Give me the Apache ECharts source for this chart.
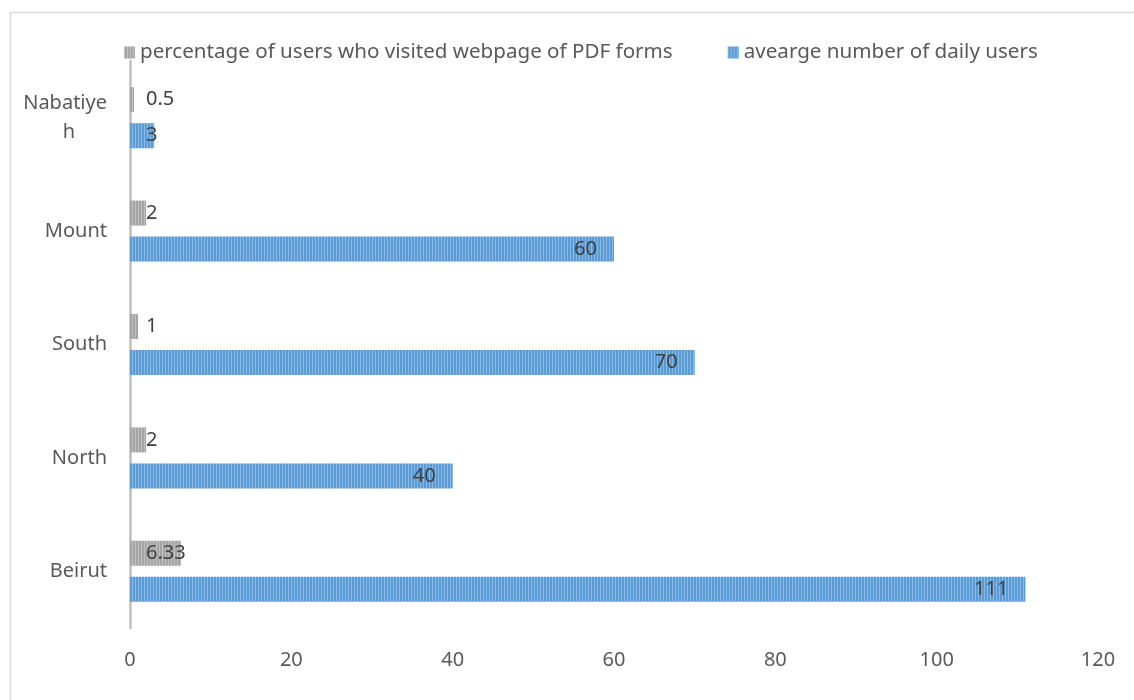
<!DOCTYPE html>
<html>
<head>
<meta charset="utf-8">
<script src="https://cdn.jsdelivr.net/npm/echarts@6/dist/echarts.min.js"></script>
<style>
  html, body { margin: 0; padding: 0; background: #fff; }
  #chart { width: 1134px; height: 700px; }
</style>
</head>
<body>
<div id="chart"></div>
<script>
// data
var regions = ['Beirut', 'North', 'South', 'Mount', 'Nabatiyeh'];
var dailyUsers = [111, 40, 70, 60, 3];
var pdfPercent = [6.33, 2, 1, 2, 0.5];
var xTicks = [0, 20, 40, 60, 80, 100, 120];

var nameGrey = 'percentage of users who visited webpage of PDF forms';
var nameBlue = 'avearge number of daily users';

var textColor = '#595959';
var font = 'Noto Sans';

var chart = echarts.init(document.getElementById('chart'));

// blue labels sit inside the end, short bars get pushed to the base
var blueData = dailyUsers.map(function (v) {
  if (v < 10) {
    return { value: v, label: { position: 'insideLeft', distance: 16 } };
  }
  return v;
});

var stripes = {
  symbol: 'rect',
  symbolSize: 1,
  dashArrayX: [1, 2],
  dashArrayY: [4, 0],
  color: 'rgba(255,255,255,0.3)'
};

var option = {
  backgroundColor: '#fff',
  textStyle: { fontFamily: font },
  graphic: [{
    type: 'rect',
    left: 8, top: 10,
    shape: { width: 1200, height: 800 },
    style: { fill: 'none', stroke: '#D9D9D9', lineWidth: 1.5 },
    silent: true
  }],
  legend: {
    data: [nameGrey, nameBlue],
    left: 119,
    top: 37,
    icon: 'rect',
    itemWidth: 11,
    itemHeight: 12,
    itemGap: 55,
    textStyle: { fontSize: 20.6, color: textColor, fontFamily: font }
  },
  grid: {
    left: 130,
    right: 36,
    top: 61,
    bottom: 72,
    containLabel: false
  },
  xAxis: {
    type: 'value',
    min: xTicks[0],
    max: xTicks[xTicks.length - 1],
    interval: 20,
    axisLine: { show: false },
    axisTick: { show: false },
    splitLine: { show: false },
    axisLabel: { color: textColor, fontSize: 20, margin: 22, fontFamily: font }
  },
  yAxis: {
    type: 'category',
    data: regions,
    axisLine: { show: true, lineStyle: { color: '#BFBFBF', width: 2.5 } },
    axisTick: { show: false },
    axisLabel: {
      color: textColor,
      fontSize: 20,
      margin: 23,
      fontFamily: font,
      formatter: function (v) {
        if (v === 'Nabatiyeh') return '{a|Nabatiye}\n{b|h}';
        return v;
      },
      rich: {
        a: { fontSize: 20, color: textColor, lineHeight: 29, fontFamily: font },
        b: { fontSize: 20, color: textColor, lineHeight: 29, fontFamily: font, padding: [0, 32, 0, 0] }
      }
    }
  },
  series: [
    {
      name: nameGrey,
      type: 'bar',
      data: pdfPercent,
      barWidth: 25,
      barGap: '44%',
      itemStyle: { color: '#A5A5A5', decal: stripes },
      label: {
        show: true,
        position: 'insideLeft',
        distance: 16,
        color: '#404040',
        fontSize: 20,
        fontFamily: font
      }
    },
    {
      name: nameBlue,
      type: 'bar',
      data: blueData,
      barWidth: 25,
      barGap: '44%',
      itemStyle: { color: '#5B9BD5', decal: stripes },
      label: {
        show: true,
        position: 'insideRight',
        distance: 17,
        color: '#404040',
        fontSize: 20,
        fontFamily: font
      }
    }
  ]
};

chart.setOption(option);
</script>
</body>
</html>
